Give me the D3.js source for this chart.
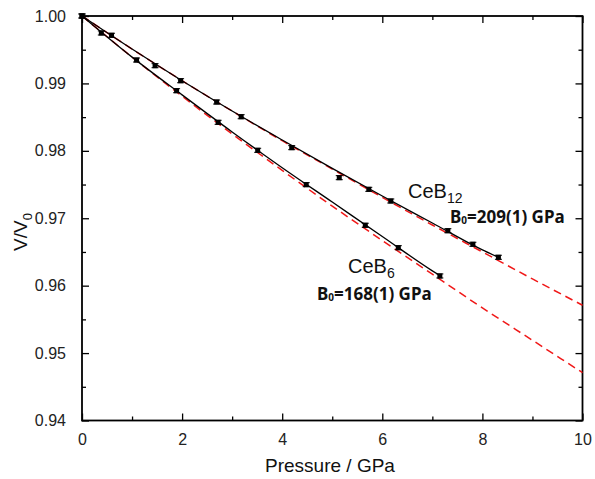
<!DOCTYPE html>
<html>
<head>
<meta charset="utf-8">
<script src="https://cdn.jsdelivr.net/npm/d3@7"></script>
<style>
  body { margin: 0; background: #fff; }
  svg { display: block; }
  .tick text { font-family: "Liberation Sans", Arial, sans-serif; font-size: 16px; fill: #222; }
</style>
</head>
<body>
<div id="chart"></div>
<script>
// measured points (pressure in GPa, V/V0)
const pressureB12 = [0, 0.59, 1.46, 1.97, 2.69, 3.18, 4.19, 5.14, 5.73, 6.17, 7.31, 7.81, 8.32];
const volumeB12 = [1.0, 0.99714, 0.99263, 0.9904, 0.98724, 0.98506, 0.98047, 0.97602, 0.97429, 0.97256, 0.96815, 0.96614, 0.96421];
const pressureB6 = [0, 0.386, 1.09, 1.89, 2.72, 3.51, 4.48, 5.66, 6.32, 7.15];
const volumeB6 = [1.0, 0.99748, 0.99347, 0.98892, 0.98423, 0.98008, 0.97498, 0.96896, 0.96563, 0.96144];
const errorBar = 0.0003;

// EOS fits (red dashed), read at whole GPa
const fitPressure = [0, 1, 2, 3, 4, 5, 6, 7, 8, 9, 10];
const fitB12 = [1, 0.9951, 0.9904, 0.9859, 0.9815, 0.9773, 0.9731, 0.969, 0.965, 0.961, 0.9571];
const fitB6 = [1, 0.9939, 0.9881, 0.9825, 0.9771, 0.9718, 0.9667, 0.9617, 0.9567, 0.9519, 0.9471];

// black guide lines through the data
const lineB12Pressure = [0, 1, 2, 3, 4, 5, 6, 7, 8, 8.32];
const lineB12 = [1, 0.9951, 0.9904, 0.9859, 0.9816, 0.9774, 0.9733, 0.9693, 0.9653, 0.9642];
const lineB6Pressure = [0, 1, 2, 3, 4, 5, 6, 7, 7.15];
const lineB6 = [1, 0.9939, 0.9883, 0.9828, 0.9775, 0.9724, 0.9673, 0.9622, 0.9615];

const xTicks = [0, 2, 4, 6, 8, 10];
const yTicks = [0.94, 0.95, 0.96, 0.97, 0.98, 0.99, 1.0];

let margin = { top: 16, left: 82 };

let x = d3.scaleLinear().domain([0, 10]).range([0, 500.5]);
let y = d3.scaleLinear().domain([0.94, 1.0]).range([404.5, 0]);
let W = x(10), H = y(0.94);

let svg = d3
  .select('#chart')
  .append('svg')
  .attr('width', 595)
  .attr('height', 479);

let g = svg.append('g').attr('transform', `translate(${margin.left}, ${margin.top})`);

// minor ticks (inward, all four sides)
let minorX = d3.range(1, 10, 2);
let minorY = [0.945, 0.955, 0.965, 0.975, 0.985, 0.995];

function axisStyle(sel) {
  sel.select('.domain').remove();
  sel.selectAll('.tick line').attr('stroke', '#000').attr('stroke-width', 1.3);
}

g.append('g')
  .attr('transform', `translate(0, ${H})`)
  .call(d3.axisBottom(x).tickValues(xTicks).tickSize(-7).tickPadding(13).tickFormat(d3.format('d')))
  .call(axisStyle);
g.append('g')
  .attr('transform', `translate(0, ${H})`)
  .call(d3.axisBottom(x).tickValues(minorX).tickSize(-4).tickFormat(''))
  .call(axisStyle);
g.append('g')
  .call(d3.axisTop(x).tickValues(xTicks).tickSize(-7).tickFormat(''))
  .call(axisStyle);
g.append('g')
  .call(d3.axisTop(x).tickValues(minorX).tickSize(-4).tickFormat(''))
  .call(axisStyle);

g.append('g')
  .call(d3.axisLeft(y).tickValues(yTicks).tickSize(-7).tickPadding(16).tickFormat(d3.format('.2f')))
  .call(axisStyle);
g.append('g')
  .call(d3.axisLeft(y).tickValues(minorY).tickSize(-4).tickFormat(''))
  .call(axisStyle);
g.append('g')
  .attr('transform', `translate(${W}, 0)`)
  .call(d3.axisRight(y).tickValues(yTicks).tickSize(-7).tickFormat(''))
  .call(axisStyle);
g.append('g')
  .attr('transform', `translate(${W}, 0)`)
  .call(d3.axisRight(y).tickValues(minorY).tickSize(-4).tickFormat(''))
  .call(axisStyle);

g.selectAll('.tick text').attr('fill', '#222');

// frame
g.append('rect')
  .attr('x', 0)
  .attr('y', 0)
  .attr('width', W)
  .attr('height', H)
  .attr('fill', 'none')
  .attr('stroke', '#000')
  .attr('stroke-width', 1.8);

let line = d3
  .line()
  .x((d) => x(d[0]))
  .y((d) => y(d[1]))
  .curve(d3.curveMonotoneX);

// red dashed fits
[fitB12, fitB6].forEach((vals) => {
  g.append('path')
    .datum(fitPressure.map((p, i) => [p, vals[i]]))
    .attr('d', line)
    .attr('fill', 'none')
    .attr('stroke', '#f01818')
    .attr('stroke-width', 1.5)
    .attr('stroke-dasharray', '8,5');
});

// black lines
[[lineB12Pressure, lineB12], [lineB6Pressure, lineB6]].forEach(([ps, vs]) => {
  g.append('path')
    .datum(ps.map((p, i) => [p, vs[i]]))
    .attr('d', line)
    .attr('fill', 'none')
    .attr('stroke', '#000')
    .attr('stroke-width', 1.3);
});

// points with error bars
[[pressureB12, volumeB12], [pressureB6, volumeB6]].forEach(([ps, vs]) => {
  let pts = ps.map((p, i) => ({ p: p, v: vs[i] }));
  let pg = g.append('g');
  let eb = pg.selectAll('g.err').data(pts).enter().append('g').attr('class', 'err');
  eb.append('line')
    .attr('x1', (d) => x(d.p))
    .attr('x2', (d) => x(d.p))
    .attr('y1', (d) => y(d.v + errorBar))
    .attr('y2', (d) => y(d.v - errorBar))
    .attr('stroke', '#000')
    .attr('stroke-width', 1);
  [errorBar, -errorBar].forEach((e) => {
    eb.append('line')
      .attr('x1', (d) => x(d.p) - 3.5)
      .attr('x2', (d) => x(d.p) + 3.5)
      .attr('y1', (d) => y(d.v + e))
      .attr('y2', (d) => y(d.v + e))
      .attr('stroke', '#000')
      .attr('stroke-width', 1);
  });
  pg.selectAll('rect')
    .data(pts)
    .enter()
    .append('rect')
    .attr('x', (d) => x(d.p) - 2.5)
    .attr('y', (d) => y(d.v) - 2.5)
    .attr('width', 5)
    .attr('height', 5)
    .attr('fill', '#000');
});

// labels
function compoundLabel(px, py, sub) {
  let t = svg.append('text')
    .attr('x', px)
    .attr('y', py)
    .attr('font-family', '"Liberation Sans", Arial, sans-serif')
    .attr('font-size', 20)
    .attr('fill', '#111');
  t.append('tspan').text('CeB');
  t.append('tspan').attr('font-size', 14).attr('dy', 5).text(sub);
}
function bulkLabel(px, py, txt) {
  let t = svg.append('text')
    .attr('x', px)
    .attr('y', py)
    .attr('font-family', '"Noto Sans", sans-serif')
    .attr('font-weight', 'bold')
    .attr('font-size', 17)
    .attr('fill', '#111');
  t.append('tspan').text('B');
  t.append('tspan').attr('font-size', 10).attr('dy', 1).text('0');
  t.append('tspan').attr('dy', -1).text(txt);
}
compoundLabel(408, 198, '12');
bulkLabel(450, 223, '=209(1) GPa');
compoundLabel(348, 273, '6');
bulkLabel(317, 300, '=168(1) GPa');

// axis titles
svg.append('text')
  .attr('x', 330)
  .attr('y', 472)
  .attr('text-anchor', 'middle')
  .attr('font-family', '"Liberation Sans", Arial, sans-serif')
  .attr('font-size', 19)
  .attr('fill', '#111')
  .text('Pressure / GPa');

let yt = svg.append('text')
  .attr('transform', 'translate(27, 232) rotate(-90)')
  .attr('text-anchor', 'middle')
  .attr('font-family', '"Liberation Sans", Arial, sans-serif')
  .attr('font-size', 19)
  .attr('fill', '#111');
yt.append('tspan').text('V/V');
yt.append('tspan').attr('font-size', 13).attr('dy', 5).text('0');
</script>
</body>
</html>
